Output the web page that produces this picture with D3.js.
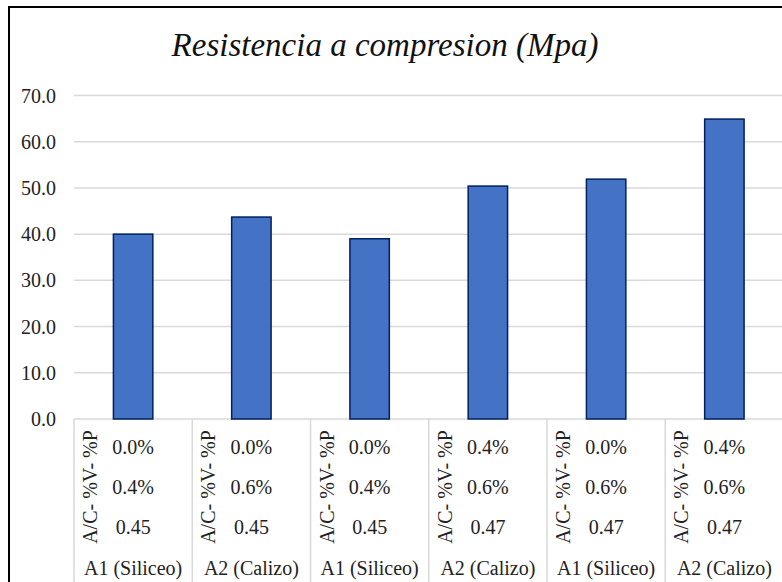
<!DOCTYPE html>
<html>
<head>
<meta charset="utf-8">
<script src="https://d3js.org/d3.v7.min.js"></script>
</head>
<body style="margin:0">
<script>
    // data
    const categories = ["c1", "c2", "c3", "c4", "c5", "c6"];
    const resistencia = [40.0, 43.7, 39.0, 50.4, 51.9, 64.9];
    const rowPorcV = ["0.0%", "0.0%", "0.0%", "0.4%", "0.0%", "0.4%"];
    const rowPorcP = ["0.4%", "0.6%", "0.4%", "0.6%", "0.6%", "0.6%"];
    const rowAC = ["0.45", "0.45", "0.45", "0.47", "0.47", "0.47"];
    const rowArido = ["A1 (Siliceo)", "A2 (Calizo)", "A1 (Siliceo)", "A2 (Calizo)", "A1 (Siliceo)", "A2 (Calizo)"];
    const yTicks = [0, 10, 20, 30, 40, 50, 60, 70];
    const rowTitle = "A/C- %V- %P";

    const W = 782, H = 582;
    const plotLeft = 74, plotRight = 783.5, plotTop = 95.5, plotBottom = 419;
    const fontFace = "Times New Roman";
    const gridColor = "#d9d9d9";

    const svg = d3.select("body").append("svg")
        .attr("width", W)
        .attr("height", H)
        .style("font-family", `"${fontFace}"`);

    // outer frame (right and bottom fall outside the crop)
    svg.append("rect")
        .attr("x", 9).attr("y", 7)
        .attr("width", W + 20).attr("height", H + 20)
        .attr("fill", "white")
        .attr("stroke", "#000")
        .attr("stroke-width", 2);

    svg.append("text")
        .attr("x", 385)
        .attr("y", 56)
        .attr("text-anchor", "middle")
        .style("font-family", `"${fontFace}"`)
        .style("font-size", "33px")
        .style("font-style", "italic")
        .style("fill", "#111")
        .text("Resistencia a compresion (Mpa)");

    const x = d3.scaleBand()
        .domain(categories)
        .range([plotLeft, plotRight])
        .padding(0);

    const y = d3.scaleLinear()
        .domain([0, 70])
        .range([plotBottom, plotTop]);

    // gridlines
    svg.append("g")
        .selectAll("line")
        .data(yTicks)
        .enter()
        .append("line")
        .attr("x1", plotLeft)
        .attr("x2", plotRight)
        .attr("y1", d => y(d))
        .attr("y2", d => y(d))
        .attr("stroke", gridColor)
        .attr("stroke-width", 1.5);

    svg.append("g")
        .selectAll("text")
        .data(yTicks)
        .enter()
        .append("text")
        .attr("x", 56)
        .attr("y", d => y(d))
        .attr("dy", "0.35em")
        .attr("text-anchor", "end")
        .style("font-family", `"${fontFace}"`)
        .style("font-size", "20px")
        .style("fill", "#222")
        .text(d => d.toFixed(1));

    // bars, gap width 200%
    const bw = x.bandwidth() / 3;
    svg.append("g")
        .selectAll("rect")
        .data(categories)
        .enter()
        .append("rect")
        .attr("x", d => x(d) + bw)
        .attr("y", (d, i) => y(resistencia[i]))
        .attr("width", bw)
        .attr("height", (d, i) => y(0) - y(resistencia[i]))
        .attr("fill", "#4472c4")
        .attr("stroke", "#002060")
        .attr("stroke-width", 1.5);

    // category table under the axis
    svg.append("g")
        .selectAll("line")
        .data(categories.concat(["end"]))
        .enter()
        .append("line")
        .attr("x1", d => d === "end" ? plotRight : x(d))
        .attr("x2", d => d === "end" ? plotRight : x(d))
        .attr("y1", plotBottom)
        .attr("y2", H)
        .attr("stroke", gridColor)
        .attr("stroke-width", 1.5);

    function cellText(sel) {
        return sel
            .style("font-family", `"${fontFace}"`)
            .style("font-size", "20px")
            .style("fill", "#222");
    }

    const rows = [rowPorcV, rowPorcP, rowAC, rowArido];
    const rowY = [454, 494, 534, 575];
    const cells = svg.append("g");
    rows.forEach((row, r) => {
        cells.selectAll(".row" + r)
            .data(categories)
            .enter()
            .append("text")
            .attr("class", "row" + r)
            .attr("x", d => x(d) + x.bandwidth() / 2)
            .attr("y", rowY[r])
            .attr("text-anchor", "middle")
            .call(cellText)
            .text((d, i) => row[i]);
    });

    cells.selectAll(".rowtitle")
        .data(categories)
        .enter()
        .append("text")
        .attr("class", "rowtitle")
        .attr("transform", d => `translate(${x(d) + 23},487) rotate(-90)`)
        .attr("text-anchor", "middle")
        .call(cellText)
        .text(rowTitle);
</script>
</body>
</html>
